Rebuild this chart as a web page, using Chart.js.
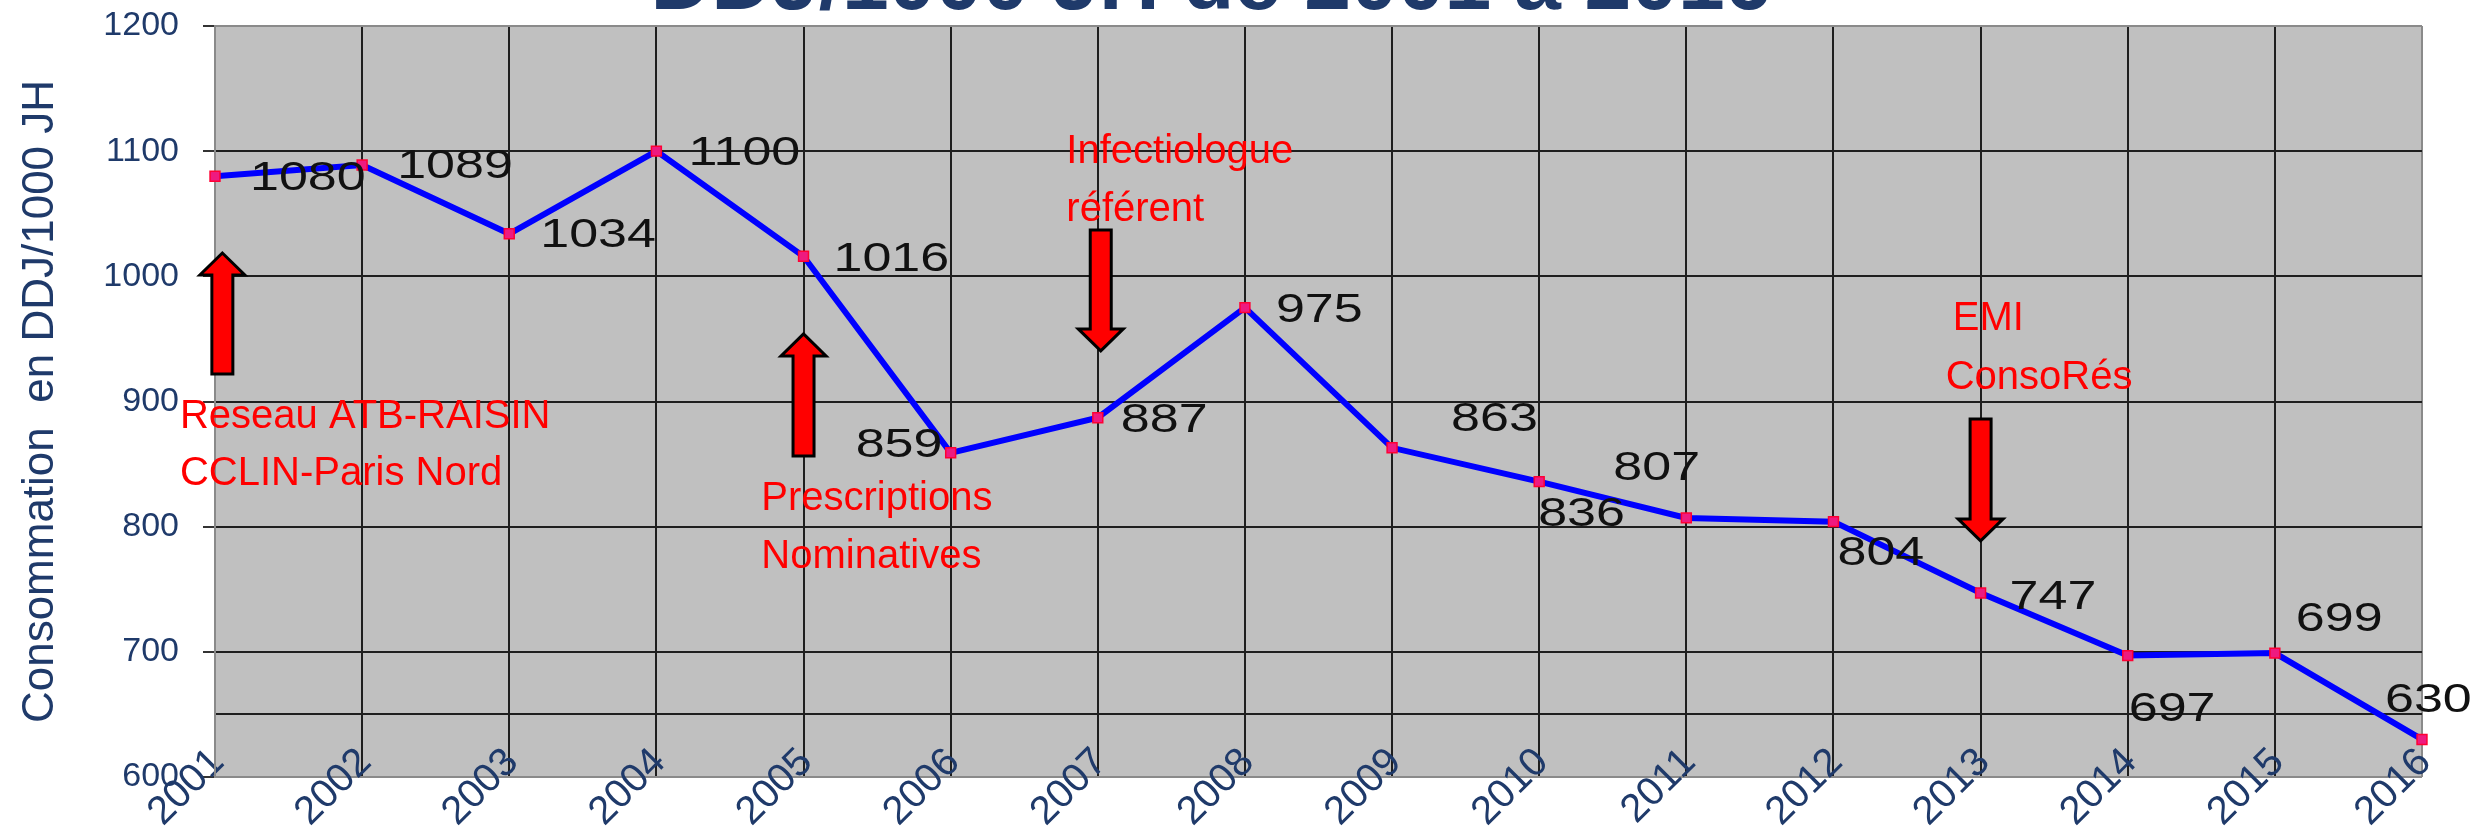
<!DOCTYPE html>
<html>
<head>
<meta charset="utf-8">
<script src="https://cdn.jsdelivr.net/npm/chart.js@4.4.0/dist/chart.umd.min.js"></script>
<style>
  html, body { margin: 0; padding: 0; background: #ffffff; overflow: hidden; }
  canvas { display: block; }
</style>
</head>
<body>
<canvas id="chart" width="2481" height="829"></canvas>
<script>
// ---------- DATA ----------
const years = ['2001','2002','2003','2004','2005','2006','2007','2008','2009','2010','2011','2012','2013','2014','2015','2016'];
const consumption = [1080, 1089, 1034, 1100, 1016, 859, 887, 975, 863, 836, 807, 804, 747, 697, 699, 630];
const yTickValues = [600, 650, 700, 800, 900, 1000, 1100, 1200];
const yUnlabeledTicks = [650];
const chartTitle = 'DDJ/1000 JH de 2001 à 2016';
const yAxisTitle = 'Consommation  en DDJ/1000 JH';
const eventTexts = [
  ['Reseau ATB-RAISIN', 'CCLIN-Paris Nord'],
  ['Prescriptions', 'Nominatives'],
  ['Infectiologue', 'référent'],
  ['EMI', 'ConsoRés']
];

// ---------- LAYOUT (placement, in data space / relative pixels) ----------
// value label placement relative to its point: [dx to left edge, dy to text centre]
const valueLabelOffsets = [
  [35, -1], [35, -1], [31, -1], [32, -1], [30, 0], [-95, -10], [23, 0], [31, 0],
  [59, -31], [-1, 30], [-73, -52], [4, 29], [29, 1], [1, 51], [21, -37], [-37, -42]
];
// event text anchors: category index (fractional) and value of each line's baseline
const eventTextAnchors = [
  { x: [-0.238, -0.238], lines: [878.8, 833.3] },
  { x: [3.713, 3.713],   lines: [813.3, 767.0] },
  { x: [5.786, 5.786],   lines: [1090.6, 1044.2] },
  { x: [11.811, 11.763], lines: [957.1, 910.0] }
];
// arrows: category index, tail value, tip value
const eventArrows = [
  { x: 0.05,  tail: 922,   tip: 1018.6 },
  { x: 4.0,   tail: 856.5, tip: 954 },
  { x: 6.02,  tail: 1037,  tip: 940.4 },
  { x: 12.0,  tail: 886,   tip: 788.6 }
];

const NAVY = '#1F3A6A';
const GRID = '#1e1e1e';
const EDGE = '#8a8a8a';
const X_LABEL_RAISE = 38;   // x tick labels overlap the plot bottom, as in the source

const plotBackground = {
  id: 'plotBackground',
  beforeDraw(chart) {
    const { ctx, chartArea: a } = chart;
    ctx.save();
    ctx.fillStyle = '#c0c0c0';
    ctx.fillRect(a.left, a.top, a.right - a.left, a.bottom - a.top);
    ctx.restore();
  }
};

// lift the x label band so the rotated year labels sit partly inside the plot
const raiseXLabels = {
  id: 'raiseXLabels',
  afterLayout(chart) {
    const xs = chart.scales.x;
    xs.top = chart.chartArea.bottom - X_LABEL_RAISE;
  }
};

const valueLabels = {
  id: 'valueLabels',
  afterDatasetsDraw(chart) {
    const { ctx } = chart;
    const meta = chart.getDatasetMeta(0);
    ctx.save();
    ctx.font = '40px "Liberation Sans", Arial, sans-serif';
    ctx.fillStyle = '#111111';
    ctx.textAlign = 'left';
    ctx.textBaseline = 'alphabetic';
    meta.data.forEach((pt, i) => {
      const [dx, dy] = valueLabelOffsets[i];
      ctx.save();
      ctx.translate(pt.x + dx, pt.y + dy + 14.5);
      ctx.scale(1.3, 1);
      ctx.fillText(String(consumption[i]), 0, 0);
      ctx.restore();
    });
    ctx.restore();
  }
};

function drawArrow(ctx, cx, yTail, yTip) {
  const dir = yTip < yTail ? -1 : 1;
  const headLen = 22, headHalf = 22.5, shaftHalf = 10.5;
  const base = yTip - dir * headLen;
  ctx.beginPath();
  ctx.moveTo(cx, yTip);
  ctx.lineTo(cx + headHalf, base);
  ctx.lineTo(cx + shaftHalf, base);
  ctx.lineTo(cx + shaftHalf, yTail);
  ctx.lineTo(cx - shaftHalf, yTail);
  ctx.lineTo(cx - shaftHalf, base);
  ctx.lineTo(cx - headHalf, base);
  ctx.closePath();
  ctx.fillStyle = '#ff0000';
  ctx.fill();
  ctx.lineWidth = 3;
  ctx.lineJoin = 'miter';
  ctx.strokeStyle = '#000000';
  ctx.stroke();
}

const eventAnnotations = {
  id: 'eventAnnotations',
  afterDraw(chart) {
    const { ctx } = chart;
    const xs = chart.scales.x, ys = chart.scales.y;
    ctx.save();
    eventArrows.forEach(a => {
      drawArrow(ctx, xs.getPixelForValue(a.x), ys.getPixelForValue(a.tail), ys.getPixelForValue(a.tip));
    });
    ctx.font = '40px "Liberation Sans", Arial, sans-serif';
    ctx.fillStyle = '#ff0000';
    ctx.textAlign = 'left';
    ctx.textBaseline = 'alphabetic';
    eventTexts.forEach((lines, k) => {
      const anc = eventTextAnchors[k];
      lines.forEach((txt, j) => {
        ctx.fillText(txt, xs.getPixelForValue(anc.x[j]), ys.getPixelForValue(anc.lines[j]));
      });
    });
    ctx.restore();
  }
};

new Chart(document.getElementById('chart'), {
  type: 'line',
  data: {
    labels: years,
    datasets: [{
      data: consumption,
      borderColor: '#0000ff',
      borderWidth: 6,
      tension: 0,
      pointStyle: 'rect',
      pointRadius: 7,
      pointBackgroundColor: '#ee1a80',
      pointBorderColor: '#ff0033',
      pointBorderWidth: 1.5,
      fill: false
    }]
  },
  options: {
    responsive: false,
    devicePixelRatio: 1,
    animation: false,
    events: [],
    layout: { padding: { left: 0, right: 59, top: 0, bottom: 0 } },
    plugins: {
      legend: { display: false },
      tooltip: { enabled: false },
      title: {
        display: true,
        text: chartTitle,
        color: NAVY,
        font: { family: '"Liberation Sans", Arial, sans-serif', size: 84, weight: 'bold', lineHeight: 1 },
        padding: { top: -56, bottom: -2 }
      }
    },
    scales: {
      x: {
        offset: false,
        grid: {
          color: ctx => (ctx.index === 0 || ctx.index === years.length - 1) ? EDGE : GRID,
          lineWidth: 2,
          drawTicks: false
        },
        border: { display: false },
        ticks: {
          autoSkip: false,
          minRotation: 45,
          maxRotation: 45,
          padding: 0,
          labelOffset: 3,
          color: NAVY,
          font: { family: '"Liberation Sans", Arial, sans-serif', size: 40 }
        },
        afterFit: scale => { scale.height = 52; }
      },
      y: {
        min: 600,
        max: 1200,
        afterBuildTicks: scale => { scale.ticks = yTickValues.map(v => ({ value: v })); },
        grid: {
          color: ctx => (ctx.tick && (ctx.tick.value === 1200 || ctx.tick.value === 600)) ? EDGE : GRID,
          lineWidth: 2,
          tickLength: 12,
          tickColor: ctx => (ctx.tick && yUnlabeledTicks.includes(ctx.tick.value)) ? 'rgba(0,0,0,0)' : '#333333'
        },
        border: { display: true, color: EDGE, width: 2 },
        ticks: {
          padding: 24,
          color: NAVY,
          font: { family: '"Liberation Sans", Arial, sans-serif', size: 34 },
          callback: v => yUnlabeledTicks.includes(v) ? '' : String(v)
        },
        title: {
          display: true,
          text: yAxisTitle,
          color: NAVY,
          font: { family: '"Liberation Sans", Arial, sans-serif', size: 44, lineHeight: 1.2 },
          padding: { top: 14, bottom: 0 }
        },
        afterFit: scale => { scale.width = 215; scale.paddingTop = 18; scale.paddingBottom = 18; }
      }
    }
  },
  plugins: [plotBackground, raiseXLabels, valueLabels, eventAnnotations]
});
</script>
</body>
</html>
